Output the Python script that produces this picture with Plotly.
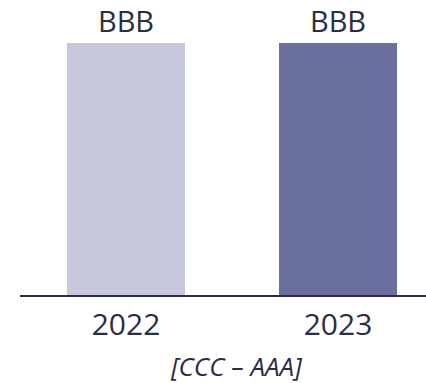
import plotly.graph_objects as go

# Credit rating by year, on an ordinal scale CCC=1 ... AAA=7
years = ["2022", "2023"]
rating_labels = ["BBB", "BBB"]
rating_scale = ["CCC", "B", "BB", "BBB", "A", "AA", "AAA"]
rating_values = [rating_scale.index(r) + 1 for r in rating_labels]
bar_colors = ["#c7c8db", "#6b6f9e"]
range_label = "[CCC – AAA]"

text_color = "#2b2d42"
font_family = "Open Sans, Noto Sans, sans-serif"

fig = go.Figure(
    go.Bar(
        x=years,
        y=rating_values,
        marker=dict(color=bar_colors, line=dict(width=0)),
        width=0.557,
        text=rating_labels,
        textposition="outside",
        cliponaxis=False,
        textfont=dict(family=font_family, size=29, color=text_color),
        hoverinfo="skip",
    )
)

# Scale range note under the axis
fig.add_annotation(
    x=0.532, y=-0.282, xref="paper", yref="paper",
    text=f"<i>{range_label}</i>", showarrow=False,
    xanchor="center", yanchor="middle", borderpad=0,
    font=dict(family=font_family, size=26, color=text_color),
)

fig.update_layout(
    width=426, height=383,
    margin=dict(l=20, r=0, t=43, b=88),
    paper_bgcolor="white", plot_bgcolor="white",
    showlegend=False,
    bargap=0,
    font=dict(family=font_family, color=text_color),
)
fig.update_xaxes(
    type="category",
    range=[-0.5, 1.415],
    showline=True, linecolor=text_color, linewidth=2,
    showgrid=False, zeroline=False, ticks="",
    tickfont=dict(family=font_family, size=30, color=text_color),
    ticklabelstandoff=2,
)
fig.update_yaxes(
    range=[0, max(rating_values)],
    visible=False, showgrid=False, zeroline=False,
)

fig.write_html("out.html")
